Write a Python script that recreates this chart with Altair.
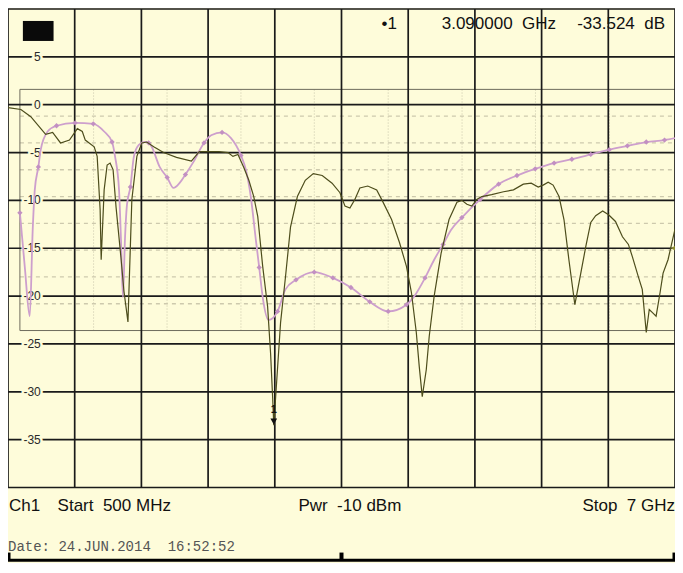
import altair as alt
import pandas as pd

# ---------------- data ----------------
# measured trace (olive): frequency in GHz, level in dB
meas_f = [0.500, 0.626, 0.722, 0.867, 0.935, 1.012, 1.099, 1.176, 1.224, 1.253, 1.340, 1.369,
          1.398, 1.408, 1.437, 1.466, 1.495, 1.524, 1.553, 1.601, 1.630, 1.669, 1.707, 1.756,
          1.804, 1.852, 1.920, 2.016, 2.142, 2.287, 2.364, 2.461, 2.557, 2.644, 2.692, 2.741,
          2.799, 2.847, 2.895, 2.934, 2.982, 3.030, 3.059, 3.079, 3.090, 3.108, 3.156, 3.204,
          3.253, 3.320, 3.397, 3.475, 3.562, 3.658, 3.735, 3.784, 3.832, 3.880, 3.929, 4.006,
          4.093, 4.151, 4.238, 4.315, 4.383, 4.431, 4.479, 4.508, 4.537, 4.576, 4.605, 4.653,
          4.721, 4.798, 4.875, 4.923, 4.972, 5.020, 5.068, 5.117, 5.213, 5.329, 5.426, 5.522,
          5.599, 5.667, 5.715, 5.764, 5.812, 5.870, 5.918, 5.966, 6.024, 6.082, 6.131, 6.179,
          6.227, 6.295, 6.353, 6.420, 6.488, 6.546, 6.585, 6.643, 6.681, 6.720, 6.749, 6.778,
          6.816, 6.855, 6.884, 6.932, 7.000]
meas_db = [-0.3, -0.5, -1.25, -3.1, -2.9, -4.0, -3.7, -2.5, -2.8, -3.7, -4.4, -5.4,
           -11.0, -16.2, -8.9, -6.3, -6.1, -6.8, -10.7, -16.0, -19.5, -22.7, -9.9, -5.4,
           -4.0, -3.9, -4.4, -5.0, -5.5, -5.9, -4.9, -4.9, -4.9, -5.0, -5.4, -5.2,
           -6.6, -7.9, -9.6, -11.7, -16.9, -21.1, -26.0, -30.6, -33.5, -30.6, -22.8, -18.0,
           -12.8, -9.6, -7.9, -7.2, -7.4, -8.2, -9.2, -10.6, -10.8, -9.9, -8.7, -8.5,
           -8.9, -10.1, -12.0, -14.4, -16.9, -19.6, -23.8, -27.4, -30.5, -27.7, -24.2, -20.0,
           -15.5, -12.0, -10.2, -10.0, -10.4, -10.6, -9.9, -9.6, -9.4, -9.1, -8.9, -8.3,
           -8.2, -8.6, -8.4, -8.1, -8.4, -9.6, -12.0, -16.2, -20.9, -17.6, -14.8, -12.3,
           -11.6, -11.1, -11.5, -12.2, -13.8, -14.6, -15.9, -18.0, -19.3, -23.8, -21.4, -21.7,
           -22.1, -19.6, -17.6, -16.2, -13.0]

# simulated trace (pink)
sim_f = [0.616, 0.664, 0.712, 0.741, 0.761, 0.796, 0.819, 0.886, 0.973, 1.154, 1.331, 1.437,
         1.514, 1.543, 1.582, 1.601, 1.620, 1.640, 1.659, 1.693, 1.727, 1.775, 1.833, 1.871,
         1.900, 1.978, 2.051, 2.113, 2.171, 2.229, 2.306, 2.410, 2.480, 2.586, 2.673, 2.770,
         2.818, 2.866, 2.915, 2.948, 2.982, 3.040, 3.127, 3.204, 3.307, 3.484, 3.666, 3.842,
         4.025, 4.205, 4.383, 4.460, 4.564, 4.653, 4.740, 4.817, 4.923, 5.102, 5.281, 5.460,
         5.638, 5.822, 5.995, 6.179, 6.359, 6.536, 6.720, 6.898, 7.000]
sim_db = [-11.3, -17.0, -22.1, -13.0, -8.9, -6.5, -4.7, -2.8, -2.2, -1.9, -2.0, -2.8,
          -3.9, -5.4, -8.9, -14.1, -20.1, -14.0, -10.5, -8.6, -5.4, -4.2, -3.9, -4.0,
          -4.4, -6.5, -7.6, -8.7, -8.2, -7.3, -6.0, -4.0, -3.2, -2.9, -3.5, -5.3,
          -6.8, -9.6, -14.1, -17.0, -20.1, -22.5, -21.6, -19.3, -18.3, -17.5, -18.1, -19.1,
          -20.6, -21.6, -20.9, -20.0, -18.1, -16.2, -14.6, -13.1, -11.8, -9.9, -8.3, -7.4,
          -6.7, -6.1, -5.7, -5.2, -4.7, -4.3, -3.9, -3.7, -3.5]
# diamond markers on the simulated trace
sim_mk_f = [0.616, 0.796, 0.973, 1.154, 1.331, 1.514, 1.693, 1.871, 2.051, 2.229, 2.410, 2.586,
            2.770, 2.948, 3.127, 3.307, 3.484, 3.666, 3.842, 4.025, 4.205, 4.383, 4.564, 4.740,
            4.923, 5.102, 5.281, 5.460, 5.638, 5.822, 5.995, 6.179, 6.359, 6.536, 6.720, 6.898]
sim_mk_db = [-11.3, -6.5, -2.2, -1.9, -2.0, -3.9, -8.6, -4.0, -7.6, -7.3, -4.0, -2.9,
             -5.3, -17.0, -21.6, -18.3, -17.5, -18.1, -19.1, -20.6, -21.6, -20.9, -18.1, -14.6,
             -11.8, -9.9, -8.3, -7.4, -6.7, -6.1, -5.7, -5.2, -4.7, -4.3, -3.9, -3.7]

# marker 1
mk_f = [3.09]
mk_db = [-33.524]

# main grid (10 x 10 divisions, 5 dB/div)
grid_f = [0.5, 1.15, 1.8, 2.45, 3.1, 3.75, 4.4, 5.05, 5.7, 6.35, 7.0]
grid_db = [10, 5, 0, -5, -10, -15, -20, -25, -30, -35, -40]
ylab_db = [5, 0, -5, -10, -15, -20, -25, -30, -35]
ylab_txt = ["5", "0", "-5", "-10", "-15", "-20", "-25", "-30", "-35"]

# overlaid simulation frame with dotted grid
inner_f0, inner_db_top, inner_db_bot = 0.616, 1.6, -23.6
inner_vf = [1.334, 2.05, 2.77, 3.485, 4.205, 4.925, 5.64, 6.36]
inner_hdb = [-1.2, -4.0, -6.8, -9.6, -12.4, -15.2, -18.0, -20.8]

# texts (non-breaking spaces keep the double gaps)
NB = "\u00a0"
hdr_txt = ["\u20221", f"3.090000{NB}{NB}GHz", f"-33.524{NB}{NB}dB"]
foot_txt = ["Ch1", f"Start{NB}{NB}500{NB}MHz", f"Pwr{NB}{NB}-10{NB}dBm", f"Stop{NB}{NB}7{NB}GHz"]
date_txt = f"Date:{NB}24.JUN.2014{NB}{NB}16:52:52"

# ---------------- chart ----------------
BG = "#FEFCDA"
F0, F1 = 0.5, 7.0
DB_TOP, DB_BOT = 10.104, -47.89
XS = alt.Scale(domain=[F0, F1], nice=False, zero=False)
YS = alt.Scale(domain=[DB_BOT, DB_TOP], nice=False, zero=False)


def X(field="f"):
    return alt.X(f"{field}:Q", scale=XS, axis=None)


def Y(field="db"):
    return alt.Y(f"{field}:Q", scale=YS, axis=None)


meas = pd.DataFrame({"f": meas_f, "db": meas_db})
sim = pd.DataFrame({"f": sim_f, "db": sim_db})
simmk = pd.DataFrame({"f": sim_mk_f, "db": sim_mk_db})

vgrid = pd.DataFrame({"f": grid_f, "y1": [grid_db[-1]] * len(grid_f), "y2": [grid_db[0]] * len(grid_f)})
hgrid = pd.DataFrame({"db": grid_db, "x1": [F0] * len(grid_db), "x2": [F1] * len(grid_db)})

ivert = pd.DataFrame({"f": inner_vf, "y1": [inner_db_bot] * len(inner_vf), "y2": [inner_db_top] * len(inner_vf)})
ihor = pd.DataFrame({"db": inner_hdb, "x1": [inner_f0] * len(inner_hdb), "x2": [F1] * len(inner_hdb)})
iframe_h = pd.DataFrame({"db": [inner_db_top, inner_db_bot], "x1": [inner_f0] * 2, "x2": [F1] * 2})
iframe_v = pd.DataFrame({"f": [inner_f0], "y1": [inner_db_bot], "y2": [inner_db_top]})

v_rules = alt.Chart(vgrid).mark_rule(color="#1a1a1a", strokeWidth=1.7).encode(x=X(), y=Y("y1"), y2="y2:Q")
h_rules = alt.Chart(hgrid).mark_rule(color="#1a1a1a", strokeWidth=1.7).encode(y=Y(), x=X("x1"), x2="x2:Q")

i_v = alt.Chart(ivert).mark_rule(color="#c9c6aa", strokeWidth=1, strokeDash=[1, 2]).encode(
    x=X(), y=Y("y1"), y2="y2:Q")
i_h = alt.Chart(ihor).mark_rule(color="#cdc9ad", strokeWidth=1.3, strokeDash=[4, 4]).encode(
    y=Y(), x=X("x1"), x2="x2:Q")
i_fh = alt.Chart(iframe_h).mark_rule(color="#6e6c5c", strokeWidth=1).encode(y=Y(), x=X("x1"), x2="x2:Q")
i_fv = alt.Chart(iframe_v).mark_rule(color="#6e6c5c", strokeWidth=1).encode(x=X(), y=Y("y1"), y2="y2:Q")

ylab = pd.DataFrame({"db": ylab_db, "t": ylab_txt, "f": [0.819] * len(ylab_db)})
ylab_halo = alt.Chart(ylab).mark_text(align="right", baseline="middle", fontSize=12,
                                      font="Liberation Sans", stroke=BG, strokeWidth=5,
                                      fill=BG).encode(x=X(), y=Y(), text="t:N")
ylab_txt_l = alt.Chart(ylab).mark_text(align="right", baseline="middle", fontSize=12,
                                       font="Liberation Sans", color="#2a2a2a").encode(
    x=X(), y=Y(), text="t:N")

sim_line = alt.Chart(sim).mark_line(color="#cd9fcd", strokeWidth=1.8, interpolate="monotone").encode(
    x=X(), y=Y())
sim_pts = alt.Chart(simmk).mark_point(shape="diamond", filled=True, color="#c290c2", size=28,
                                      opacity=1).encode(x=X(), y=Y())
meas_line = alt.Chart(meas).mark_line(color="#4d4d1c", strokeWidth=1.2).encode(x=X(), y=Y())

mk = pd.DataFrame({"f": mk_f, "db": mk_db})
mk_tri = alt.Chart(mk).mark_point(shape="triangle-down", filled=True, color="#111111", size=45,
                                  opacity=1, yOffset=-4).encode(x=X(), y=Y())
mk_lab = alt.Chart(mk).mark_text(fontSize=11, fontWeight="bold", color="#111111", yOffset=-16,
                                 font="Liberation Sans").encode(x=X(), y=Y(), text=alt.value("1"))

# reference level marker on the right edge
ref = pd.DataFrame({"f": [F1], "db": [-15.0]})
ref_pt = alt.Chart(ref).mark_point(shape="triangle-left", filled=True, color="#8a8a32", size=90,
                                   opacity=1).encode(x=X(), y=Y())

# black box in top-left corner
box = pd.DataFrame({"f": [0.645], "f2": [0.944], "db": [8.75], "db2": [6.66]})
box_m = alt.Chart(box).mark_rect(color="#0a0a0a").encode(x=X(), x2="f2:Q", y=Y(), y2="db2:Q")

hdr = pd.DataFrame({"t": hdr_txt, "f": [4.141, 5.841, 6.903], "db": [8.43] * 3,
                    "al": ["left", "right", "right"]})
hdr_l = alt.Chart(hdr[hdr.al == "left"]).mark_text(align="left", baseline="middle", fontSize=17,
                                                   font="Liberation Sans", color="#111111").encode(
    x=X(), y=Y(), text="t:N")
hdr_r = alt.Chart(hdr[hdr.al == "right"]).mark_text(align="right", baseline="middle", fontSize=17,
                                                    font="Liberation Sans", color="#111111").encode(
    x=X(), y=Y(), text="t:N")

foot = pd.DataFrame({"t": foot_txt, "f": [0.51, 0.983, 3.33, 7.0], "db": [-41.9] * 4,
                     "al": ["left", "left", "left", "right"]})
foot_l = alt.Chart(foot[foot.al == "left"]).mark_text(align="left", baseline="middle", fontSize=17,
                                                      font="Liberation Sans", color="#111111").encode(
    x=X(), y=Y(), text="t:N")
foot_r = alt.Chart(foot[foot.al == "right"]).mark_text(align="right", baseline="middle", fontSize=17,
                                                       font="Liberation Sans", color="#111111").encode(
    x=X(), y=Y(), text="t:N")

date = pd.DataFrame({"t": [date_txt], "f": [0.5], "db": [-46.2]})
date_m = alt.Chart(date).mark_text(align="left", baseline="middle", fontSize=14,
                                   font="Liberation Mono", color="#555555").encode(
    x=X(), y=Y(), text="t:N")

bar = pd.DataFrame({"db": [-47.6], "x1": [F0], "x2": [F1]})
bar_m = alt.Chart(bar).mark_rule(color="#000000", strokeWidth=3).encode(y=Y(), x=X("x1"), x2="x2:Q")
ticks = pd.DataFrame({"f": [0.505, 3.75, 6.995], "y1": [-47.6] * 3, "y2": [-46.8] * 3})
ticks_m = alt.Chart(ticks).mark_rule(color="#000000", strokeWidth=4).encode(
    x=X(), y=Y("y1"), y2="y2:Q")

chart = alt.layer(
    i_v, i_h, i_fh, i_fv, v_rules, h_rules, ylab_halo, ylab_txt_l,
    sim_line, sim_pts, meas_line, mk_tri, mk_lab, ref_pt, box_m,
    hdr_l, hdr_r, foot_l, foot_r, date_m, bar_m, ticks_m,
).properties(
    width=667, height=555, padding=0, background=BG,
    autosize=alt.AutoSizeParams(type="none"),
).configure_view(strokeWidth=0)

chart.save("out.html", embed_options={"renderer": "svg", "actions": False})
